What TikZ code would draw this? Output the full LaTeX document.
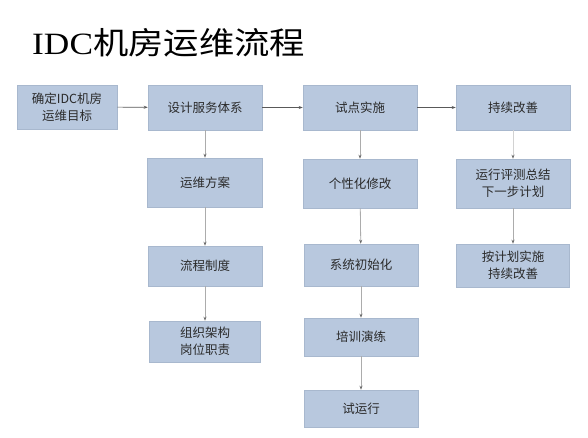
\documentclass[tikz,border=0pt]{standalone}
\usepackage{fontspec}
\setmainfont{Noto Sans CJK SC}
\newfontfamily\cjk{Noto Sans CJK SC}
\newfontfamily\titlelat{Liberation Serif}
\usetikzlibrary{arrows.meta}
\definecolor{boxfill}{HTML}{B8C8DE}
\definecolor{boxline}{HTML}{A8B8CE}
\definecolor{txt}{HTML}{2A2A2A}
\tikzset{
  procbox/.style={draw=boxline, line width=0.6pt, fill=boxfill, align=center, inner sep=1pt,
    font=\cjk\fontsize{12.5}{17}\selectfont, text=txt},
  flow/.style={draw=gray!70!black, line width=0.6pt, -{Stealth[length=4pt,width=3pt]}},
  vflow/.style={draw=gray!65, line width=0.8pt, -{Stealth[length=4pt,width=3pt,color=gray!80!black]}}
}
\begin{document}
\begin{tikzpicture}[x=1pt,y=-1pt]
\useasboundingbox (0,0) rectangle (588,438);
\fill[white] (0,0) rectangle (588,438);
\node[anchor=west, inner sep=0pt, xscale=1.14, font=\fontsize{31}{34}\selectfont] (title) at (32,43) {{\titlelat IDC}机房运维流程};

\node[procbox, minimum width=100pt, minimum height=44pt] (b1) at (67,107) {确定IDC机房\\运维目标};
\node[procbox, minimum width=114pt, minimum height=45pt] (b2) at (205,107.5) {设计服务体系};
\node[procbox, minimum width=114pt, minimum height=45pt] (b3) at (360,107.5) {试点实施};
\node[procbox, minimum width=114pt, minimum height=45pt] (b4) at (513,107.5) {持续改善};

\node[procbox, minimum width=115pt, minimum height=49pt] (c2a) at (205,182.5) {运维方案};
\node[procbox, minimum width=114pt, minimum height=40pt] (c2b) at (205,266) {流程制度};
\node[procbox, minimum width=111pt, minimum height=41pt] (c2c) at (205,341.5) {组织架构\\岗位职责};

\node[procbox, minimum width=114pt, minimum height=49pt] (c3a) at (360,183.5) {个性化修改};
\node[procbox, minimum width=114pt, minimum height=42pt] (c3b) at (361,265) {系统初始化};
\node[procbox, minimum width=114pt, minimum height=38pt] (c3c) at (361,337) {培训演练};
\node[procbox, minimum width=114pt, minimum height=37pt] (c3d) at (361,408.5) {试运行};

\node[procbox, minimum width=114pt, minimum height=49pt] (c4a) at (513,183.5) {运行评测总结\\下一步计划};
\node[procbox, minimum width=113pt, minimum height=43pt] (c4b) at (513,265.5) {按计划实施\\持续改善};

\draw[flow] (b1) -- (b2);
\draw[flow] (b2) -- (b3);
\draw[flow] (b3) -- (b4);

\draw[vflow] (b2) -- (c2a);
\draw[vflow] (c2a) -- (c2b);
\draw[vflow] (c2b) -- (c2c);

\draw[vflow] (b3.south) -- (c3a.north);
\draw[vflow] (c3a) -- (c3b);
\draw[vflow] (c3b) -- (c3c);
\draw[vflow] (c3c) -- (c3d);

\draw[vflow, draw=gray!35] (b4) -- (c4a);
\draw[vflow] (c4a) -- (c4b);
\end{tikzpicture}
\end{document}
